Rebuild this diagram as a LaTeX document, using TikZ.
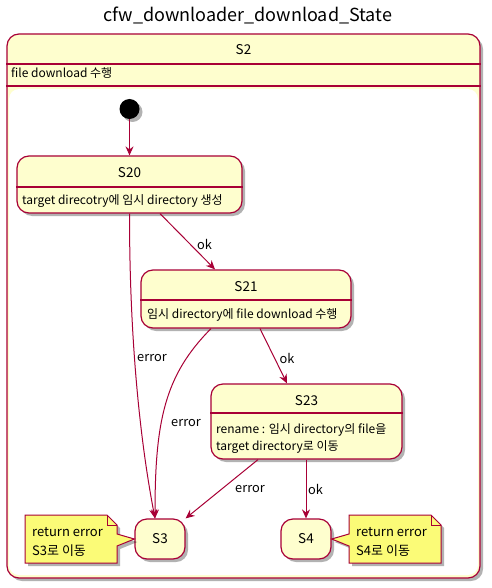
\documentclass[tikz,border=0pt]{standalone}
\usepackage{fontspec}
\setmainfont{Noto Sans CJK KR}
\usetikzlibrary{arrows.meta,shadows}
\definecolor{umlred}{HTML}{A80036}
\definecolor{umlfill}{HTML}{FEFECE}
\definecolor{umlnote}{HTML}{FBFB77}
\begin{document}
\begin{tikzpicture}[x=1pt, y=-1pt,
    shade/.style={drop shadow={shadow xshift=3pt, shadow yshift=-3pt, opacity=0.3, fill=black}},
    state/.style={rectangle, rounded corners=12pt, draw=umlred, fill=umlfill, line width=1.2pt, shade},
    sep/.style={draw=umlred, line width=1.2pt},
    head/.style={font=\fontsize{13.5}{16}\selectfont, inner sep=0pt},
    body/.style={font=\fontsize{12}{17}\selectfont, align=left, anchor=west, inner sep=0pt},
    notetext/.style={font=\fontsize{13}{19}\selectfont, align=left, anchor=west, inner sep=0pt},
    lbl/.style={font=\fontsize{12.8}{15}\selectfont, inner sep=0pt},
    note/.style={draw=umlred, fill=umlnote, line width=1pt, shade},
    edge/.style={draw=umlred, line width=1pt, -{Stealth[length=9pt,width=8pt,inset=3pt]}}
]
    \useasboundingbox (0,0) rectangle (491,588);

    \node[font=\fontsize{18}{20}\selectfont, inner sep=0pt] (title) at (248,15) {cfw\_downloader\_download\_State};

    % composite state S2
    \node[state, minimum width=473pt, minimum height=544pt] (S2) at (243.5,306) {};
    \fill[white, rounded corners=10pt] (9,89) rectangle (478,575);
    \draw[sep] (S2.west |- 0,64) -- (S2.east |- 0,64);
    \draw[sep] (S2.west |- 0,86) -- (S2.east |- 0,86);
    \node[head] (S2h) at (243.5,50) {S2};
    \node[body] (S2b) at (11,73) {file download 수행};

    \node[circle, fill=black, minimum size=20pt, inner sep=0pt, shade] (init) at (129.5,109) {};

    % inner states
    \node[state, minimum width=225pt, minimum height=57pt] (S20) at (129.5,184.5) {};
    \draw[sep] (S20.west |- 0,187) -- (S20.east |- 0,187);
    \node[head] (S20h) at (129.5,173) {S20};
    \node[body] (S20b) at (22,201) {target direcotry에 임시 directory 생성};

    \node[state, minimum width=210pt, minimum height=58pt] (S21) at (246,299) {};
    \draw[sep] (S21.west |- 0,300) -- (S21.east |- 0,300);
    \node[head] (S21h) at (246,287) {S21};
    \node[body] (S21b) at (147,315) {임시 directory에 file download 수행};

    \node[state, minimum width=191pt, minimum height=75pt] (S23) at (306.5,421.5) {};
    \draw[sep] (S23.west |- 0,413) -- (S23.east |- 0,413);
    \node[head] (S23h) at (306.5,401) {S23};
    \node[body] (S23b) at (216,438.5) {rename : 임시 directory의 file을\\target directory로 이동};

    \node[state, minimum width=50pt, minimum height=40pt, head] (S3) at (160,539) {S3};
    \node[state, minimum width=50pt, minimum height=40pt, head] (S4) at (306,539) {S4};

    % transitions
    \draw[edge] (init) -- (S20);
    \draw[edge] (S20.south -| 160,0) -- (S21.north -| 215,0);
    \draw[edge] (S20.south) .. controls (129.5,340) and (140,440) .. (S3.north -| 155,0);
    \draw[edge] (S21.south -| 211,0) .. controls (165,375) and (155,420) .. (S3.north -| 155,0);
    \draw[edge] (S21.south -| 260,0) -- (S23.north -| 287,0);
    \draw[edge] (S23.south -| 258,0) -- (S3.north east);
    \draw[edge] (S4.north |- S23.south) -- (S4.north);

    \node[lbl] (l1) at (204.5,244) {ok};
    \node[lbl] (l2) at (152,358) {error};
    \node[lbl] (l3) at (186,423) {error};
    \node[lbl] (l4) at (287,358) {ok};
    \node[lbl] (l5) at (250,489) {error};
    \node[lbl] (l6) at (315.5,489) {ok};

    % notes
    \draw[note] (25,515) -- (107,515) -- (117,525) -- (117,534) -- (S3.west) -- (117,546) -- (117,563) -- (25,563) -- cycle;
    \draw[umlred, line width=1pt] (107,515) -- (107,525) -- (117,525);
    \node[notetext] (n3) at (32,541.5) {return error\\S3로 이동};

    \draw[note] (349,515) -- (431,515) -- (441,525) -- (441,563) -- (349,563) -- (349,546) -- (S4.east) -- (349,534) -- cycle;
    \draw[umlred, line width=1pt] (431,515) -- (431,525) -- (441,525);
    \node[notetext] (n4) at (356,541.5) {return error\\S4로 이동};
\end{tikzpicture}
\end{document}
